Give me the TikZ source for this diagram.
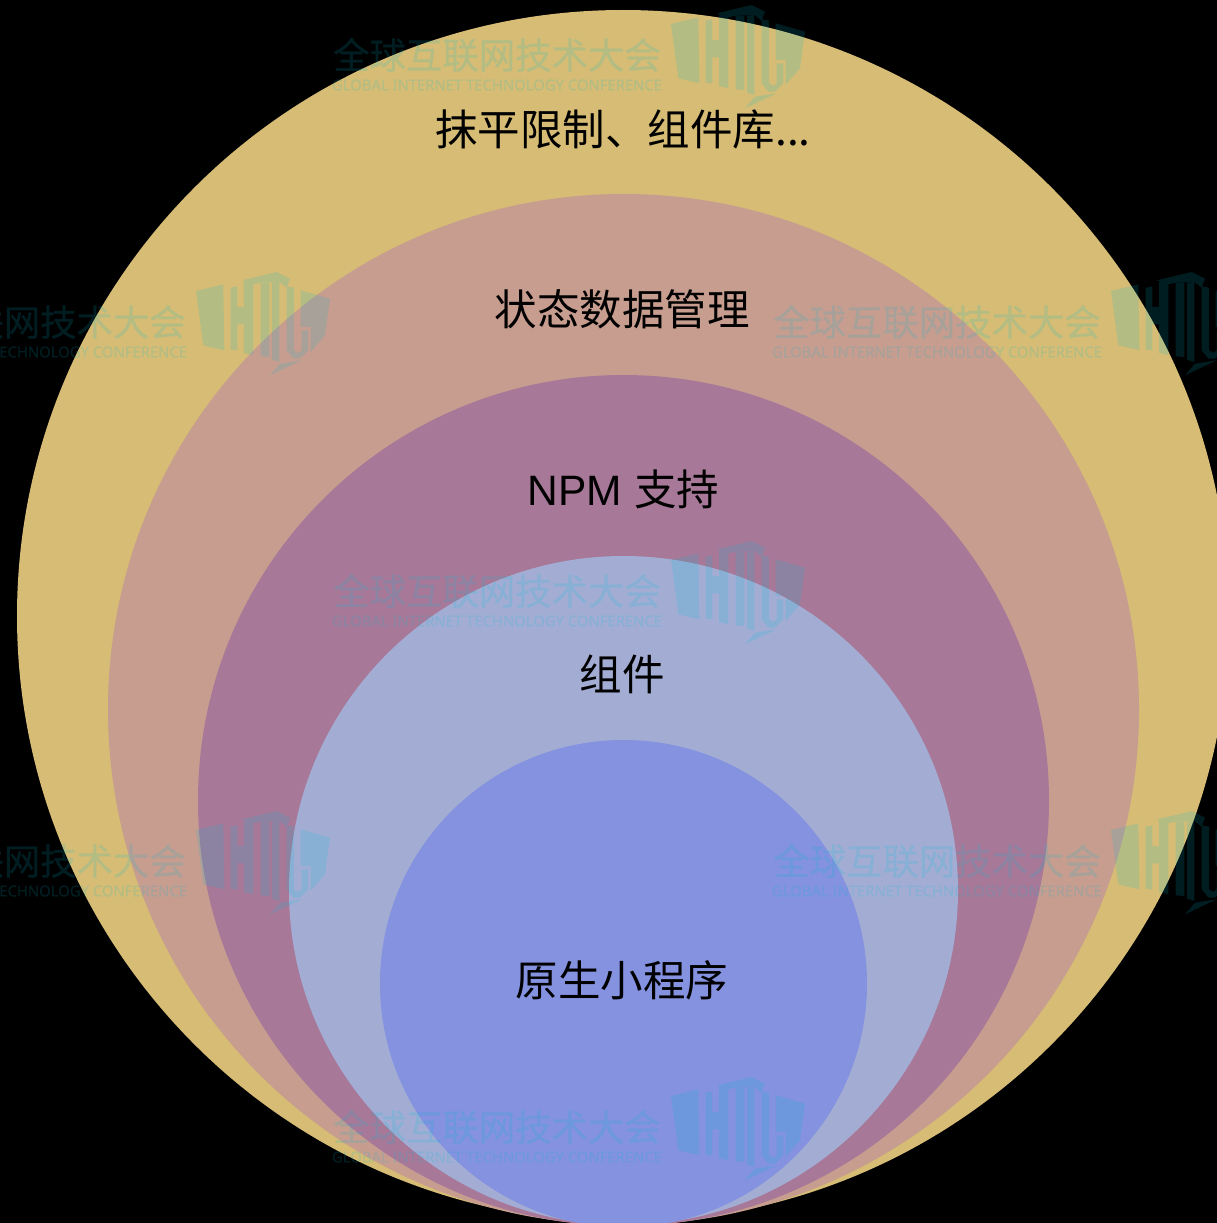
\documentclass[tikz,border=0pt]{standalone}
\usepackage{fontspec}
\usepackage{graphicx}
\setmainfont{Noto Sans CJK SC}
\newfontfamily\wmlatin{Noto Sans}[FakeBold=0.6]
\newfontfamily\wmcjk{Noto Sans CJK SC}[FakeBold=0.5]
\newfontfamily\lablatin{Liberation Sans}
\definecolor{ringA}{RGB}{214,188,116}
\definecolor{ringB}{RGB}{199,157,143}
\definecolor{ringC}{RGB}{167,120,152}
\definecolor{ringD}{RGB}{163,173,212}
\definecolor{ringE}{RGB}{132,146,224}
\definecolor{wmcol}{RGB}{0,188,215}
\newcommand{\watermark}[2]{%
  \begin{scope}[shift={(#1,#2)},transparency group,opacity=.16]
    \node[wmtitle] (wmt#1x#2) at (497,55) {\wmcjk 全球互联网技术大会};
    \node[wmsub] (wms#1x#2) at (497,85) {\resizebox{330pt}{11pt}{\wmlatin GLOBAL INTERNET TECHNOLOGY CONFERENCE}};
    \begin{scope}[shift={(665,0)},x=.3333pt,y=-.3333pt]
      \fill[wmcol] (18,72) -- (100,52) -- (103,250) -- (40,235) -- cycle;
      \fill[wmcol] (122,62) -- (142,58) -- (142,120) -- (162,120) -- (162,45) -- (190,40) -- (190,265) -- (162,258) -- (162,172) -- (142,172) -- (142,250) -- (122,248) -- cycle;
      \fill[wmcol] (155,40) -- (260,15) -- (300,35) -- (290,62) -- (268,45) -- (212,47) -- (190,52) -- cycle;
      \fill[wmcol] (212,47) -- (238,47) -- (238,270) -- (212,268) -- cycle;
      \fill[wmcol] (246,47) -- (268,45) -- (268,285) -- (246,278) -- cycle;
      \fill[wmcol] (290,58) -- (312,62) -- (312,250) -- (325,258) -- (335,250) -- (335,190) -- (355,190) -- (355,250) -- (330,275) -- (310,275) -- (290,250) -- cycle;
      \fill[wmcol] (332,70) -- (420,95) -- (405,205) -- (362,255) -- (362,180) -- (332,180) -- cycle;
      \fill[wmcol] (270,290) -- (335,280) -- (240,325) -- cycle;
    \end{scope}
  \end{scope}}
\tikzset{
  x=1pt,y=-1pt,
  ring/.style={draw=none},
  label/.style={font=\fontsize{42.5}{48}\selectfont,text=black,inner sep=0pt},
  wmtitle/.style={font=\fontsize{36.4}{40}\selectfont,text=wmcol,inner sep=0pt},
  wmsub/.style={text=wmcol,inner sep=0pt}
}
\begin{document}
\begin{tikzpicture}
\useasboundingbox (0,0) rectangle (1217,1223);
\fill[black] (0,0) rectangle (1217,1223);
\clip (0,0) rectangle (1217,1223);
\fill[ringA,ring] (623,616) circle[radius=606];
\fill[ringB,ring] (623.5,709.5) circle[radius=515.5];
\fill[ringC,ring] (623.5,800.5) circle[radius=425.5];
\fill[ringD,ring] (623.5,890.5) circle[radius=334.5];
\fill[ringE,ring] (623.5,983.5) circle[radius=243.5];
\watermark{0}{0}
\watermark{440}{267}
\watermark{-475}{267}
\watermark{0}{536}
\watermark{440}{806}
\watermark{-475}{806}
\watermark{0}{1072}
\node[label] (l1) at (623,129.5) {抹平限制、组件库...};
\node[label] (l2) at (622,309.5) {状态数据管理};
\node[label] (l3) at (623.5,489) {\lablatin NPM\ \normalfont 支持};
\node[label] (l4) at (622,674.5) {组件};
\node[label] (l5) at (622,980) {原生小程序};
\end{tikzpicture}
\end{document}
